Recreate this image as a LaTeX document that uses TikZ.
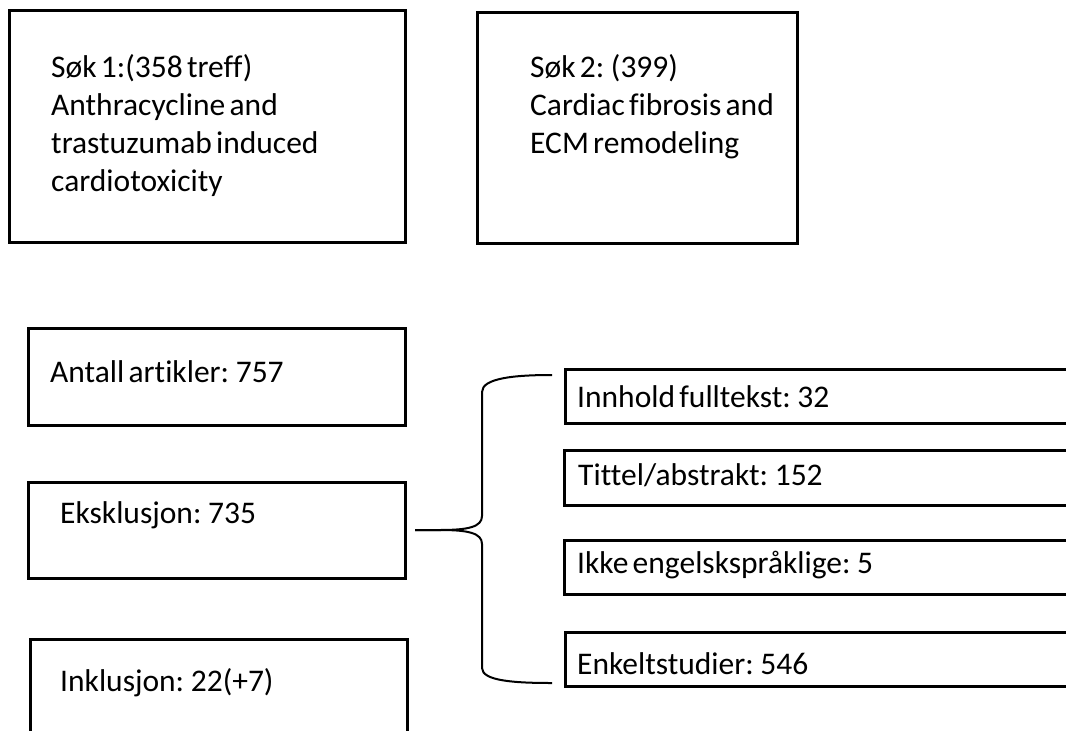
\documentclass[tikz,border=0pt]{standalone}
\usepackage{fontspec}
\setmainfont{Carlito}[Ligatures={NoCommon}, WordSpace=0.6]
\begin{document}
\begin{tikzpicture}[x=1pt,y=-1pt,
  box/.style={draw=black, line width=3pt, outer sep=0pt, inner sep=0pt, anchor=north west},
  lbl/.style={inner sep=0pt, anchor=base west, align=left, font=\fontsize{31.5}{38}\selectfont},
  bracelink/.style={draw=black, line width=2pt}]
\useasboundingbox (0,0) rectangle (1066,731);
\clip (0,0) rectangle (1066,731);
% top search boxes
\node[box, minimum width=395.5pt, minimum height=231.5pt] (s1) at (9.5,10.5) {};
\node[box, minimum width=320pt, minimum height=231pt] (s2) at (477,12) {};
\node[lbl] (s1t) at (51,191) {Søk 1:(358 treff)\\Anthracycline and\\trastuzumab induced\\cardiotoxicity};
\node[lbl] (s2t) at (530,153) {Søk 2: (399)\\Cardiac fibrosis and\\ECM remodeling};
% left column
\node[box, minimum width=377pt, minimum height=97pt] (ant) at (28,328) {};
\node[box, minimum width=377pt, minimum height=96pt] (eks) at (28,482) {};
\node[box, minimum width=377pt, minimum height=130pt] (ink) at (30,639) {};
\node[lbl] (antt) at (50,382) {Antall artikler: 757};
\node[lbl] (ekst) at (60,523) {Eksklusjon: 735};
\node[lbl] (inkt) at (60,691) {Inklusjon: 22(+7)};
% right column
\node[box, minimum width=520pt, minimum height=54pt] (inn) at (565,369) {};
\node[box, minimum width=520pt, minimum height=55pt] (tit) at (564,450) {};
\node[box, minimum width=520pt, minimum height=54pt] (ikk) at (564,540) {};
\node[box, minimum width=520pt, minimum height=54pt] (enk) at (565,632) {};
\node[lbl] (innt) at (577,407) {Innhold fulltekst: 32};
\node[lbl] (titt) at (578,485) {Tittel/abstrakt: 152};
\node[lbl] (ikkt) at (577,573) {Ikke engelskspråklige: 5};
\node[lbl] (enkt) at (577,674) {Enkeltstudier: 546};
% brace
\coordinate (tip) at ([xshift=10pt]eks.east);
\coordinate (topend) at ([xshift=-13pt]inn.west|-0,375);
\coordinate (botend) at ([xshift=-13pt]enk.west|-0,683);
\draw[bracelink] (tip) -- ++(25,0) .. controls (468,530) and (482,527) .. (482,516) -- (482,392) .. controls (482,378) and (515,375) .. (topend);
\draw[bracelink] (tip) -- ++(25,0) .. controls (468,530) and (482,533) .. (482,544) -- (482,668) .. controls (482,681) and (515,683) .. (botend);
\end{tikzpicture}
\end{document}
